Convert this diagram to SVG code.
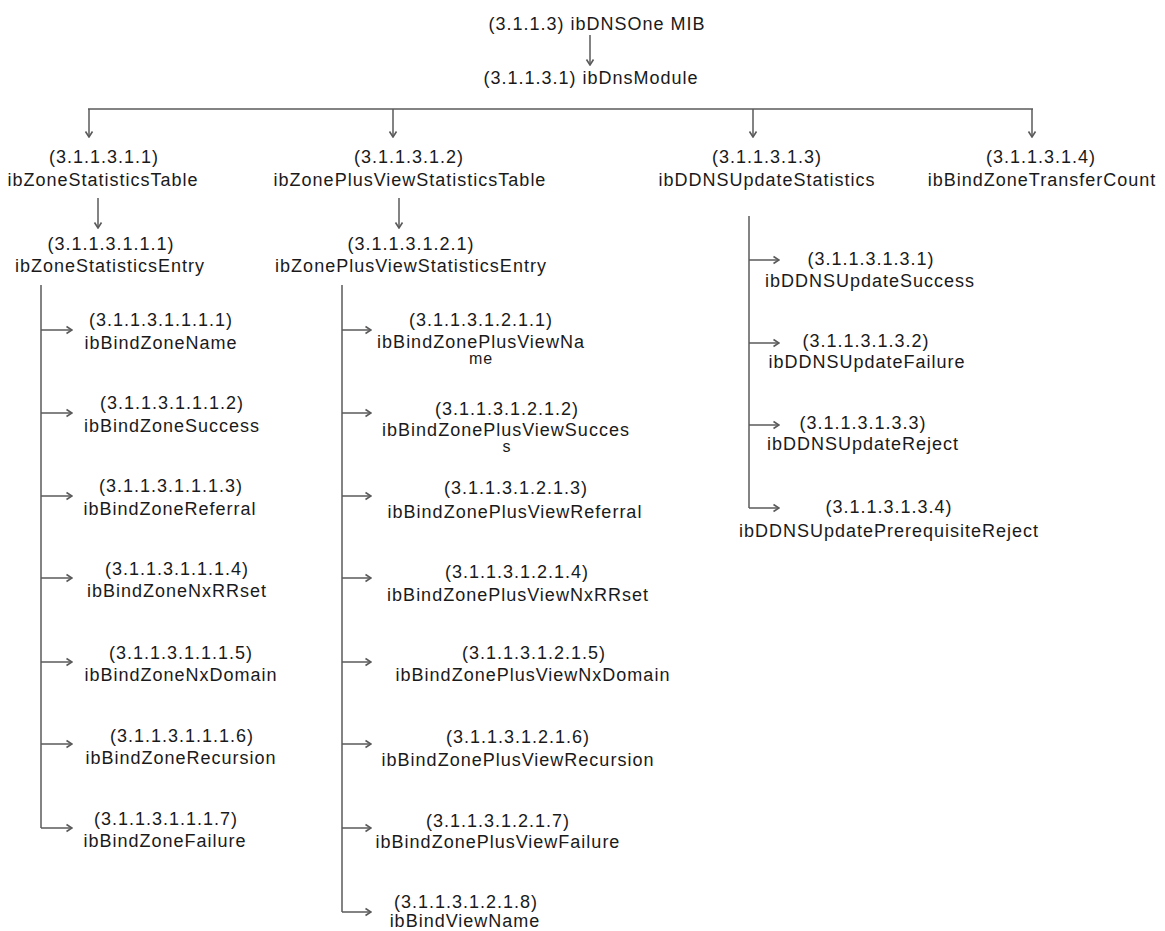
<svg xmlns="http://www.w3.org/2000/svg" width="1165" height="931" viewBox="0 0 1165 931">
  <defs>
    <marker id="arrow" markerUnits="userSpaceOnUse" markerWidth="10" markerHeight="10" viewBox="0 0 10 10" refX="9" refY="5" orient="auto">
      <path d="M3.5,1.5 L9,5 L3.5,8.5" fill="none" stroke="#5a5a5a" stroke-width="1.6" stroke-linejoin="miter"/>
    </marker>
    <style>
      text { font-family: "Liberation Sans", Arial, sans-serif; font-size: 18px; fill: #1a1a1a; letter-spacing: 1px; text-anchor: middle; }
      .wrap { font-size: 16px; }
      .line { fill: none; stroke: #5a5a5a; stroke-width: 1.5; }
      .arr { fill: none; stroke: #5a5a5a; stroke-width: 1.5; marker-end: url(#arrow); }
    </style>
  </defs>
  <rect width="1165" height="931" fill="#ffffff"/>

  <!-- connectors -->
  <g id="connectors">
    <line class="arr" x1="590" y1="35" x2="590" y2="65"/>
    <line class="line" x1="88" y1="109" x2="1033" y2="109"/>
    <line class="arr" x1="89" y1="109" x2="89" y2="137"/>
    <line class="arr" x1="393" y1="109" x2="393" y2="137"/>
    <line class="arr" x1="753" y1="109" x2="753" y2="137"/>
    <line class="arr" x1="1032" y1="109" x2="1032" y2="137"/>
    <line class="arr" x1="98" y1="198" x2="98" y2="228"/>
    <line class="arr" x1="399" y1="198" x2="399" y2="228"/>

    <!-- statistics entry branch -->
    <line class="line" x1="41" y1="285" x2="41" y2="828"/>
    <line class="arr" x1="41" y1="330" x2="72" y2="330"/>
    <line class="arr" x1="41" y1="413" x2="72" y2="413"/>
    <line class="arr" x1="41" y1="496" x2="72" y2="496"/>
    <line class="arr" x1="41" y1="578" x2="72" y2="578"/>
    <line class="arr" x1="41" y1="662" x2="72" y2="662"/>
    <line class="arr" x1="41" y1="744" x2="72" y2="744"/>
    <line class="arr" x1="41" y1="828" x2="72" y2="828"/>

    <!-- plus-view entry branch -->
    <line class="line" x1="342" y1="285" x2="342" y2="912"/>
    <line class="arr" x1="342" y1="330" x2="371" y2="330"/>
    <line class="arr" x1="342" y1="413" x2="371" y2="413"/>
    <line class="arr" x1="342" y1="496" x2="371" y2="496"/>
    <line class="arr" x1="342" y1="578" x2="371" y2="578"/>
    <line class="arr" x1="342" y1="662" x2="371" y2="662"/>
    <line class="arr" x1="342" y1="744" x2="371" y2="744"/>
    <line class="arr" x1="342" y1="828" x2="371" y2="828"/>
    <line class="arr" x1="342" y1="912" x2="371" y2="912"/>

    <!-- DDNS update branch -->
    <line class="line" x1="749" y1="216" x2="749" y2="508"/>
    <line class="arr" x1="749" y1="260" x2="779" y2="260"/>
    <line class="arr" x1="749" y1="343" x2="779" y2="343"/>
    <line class="arr" x1="749" y1="425" x2="779" y2="425"/>
    <line class="arr" x1="749" y1="508" x2="779" y2="508"/>
  </g>

  <!-- top level -->
  <g id="ibDNSOneMIB"><text x="597" y="30">(3.1.1.3) ibDNSOne MIB</text></g>
  <g id="ibDnsModule"><text x="591" y="84">(3.1.1.3.1) ibDnsModule</text></g>

  <g id="ibZoneStatisticsTable">
    <text x="104" y="163">(3.1.1.3.1.1)</text>
    <text x="103" y="186">ibZoneStatisticsTable</text>
  </g>
  <g id="ibZonePlusViewStatisticsTable">
    <text x="409" y="163">(3.1.1.3.1.2)</text>
    <text x="410" y="186">ibZonePlusViewStatisticsTable</text>
  </g>
  <g id="ibDDNSUpdateStatistics">
    <text x="767" y="163">(3.1.1.3.1.3)</text>
    <text x="767" y="186">ibDDNSUpdateStatistics</text>
  </g>
  <g id="ibBindZoneTransferCount">
    <text x="1041" y="163">(3.1.1.3.1.4)</text>
    <text x="1042" y="186">ibBindZoneTransferCount</text>
  </g>

  <g id="ibZoneStatisticsEntry">
    <text x="111" y="250">(3.1.1.3.1.1.1)</text>
    <text x="110" y="272">ibZoneStatisticsEntry</text>
  </g>
  <g id="ibZonePlusViewStatisticsEntry">
    <text x="411" y="250">(3.1.1.3.1.2.1)</text>
    <text x="411" y="272">ibZonePlusViewStatisticsEntry</text>
  </g>

  <!-- zone statistics columns -->
  <g id="ibBindZoneName">
    <text x="161" y="326">(3.1.1.3.1.1.1.1)</text>
    <text x="161" y="349">ibBindZoneName</text>
  </g>
  <g id="ibBindZoneSuccess">
    <text x="172" y="409">(3.1.1.3.1.1.1.2)</text>
    <text x="172" y="432">ibBindZoneSuccess</text>
  </g>
  <g id="ibBindZoneReferral">
    <text x="171" y="492">(3.1.1.3.1.1.1.3)</text>
    <text x="170" y="515">ibBindZoneReferral</text>
  </g>
  <g id="ibBindZoneNxRRset">
    <text x="177" y="575">(3.1.1.3.1.1.1.4)</text>
    <text x="177" y="597">ibBindZoneNxRRset</text>
  </g>
  <g id="ibBindZoneNxDomain">
    <text x="181" y="659">(3.1.1.3.1.1.1.5)</text>
    <text x="181" y="681">ibBindZoneNxDomain</text>
  </g>
  <g id="ibBindZoneRecursion">
    <text x="182" y="742">(3.1.1.3.1.1.1.6)</text>
    <text x="181" y="764">ibBindZoneRecursion</text>
  </g>
  <g id="ibBindZoneFailure">
    <text x="166" y="825">(3.1.1.3.1.1.1.7)</text>
    <text x="165" y="847">ibBindZoneFailure</text>
  </g>

  <!-- zone plus view statistics columns (long names wrap onto a short second line) -->
  <g id="ibBindZonePlusViewName">
    <text x="481" y="326">(3.1.1.3.1.2.1.1)</text>
    <text x="481" y="348">ibBindZonePlusViewNa</text>
    <text x="481" y="364" class="wrap">me</text>
  </g>
  <g id="ibBindZonePlusViewSuccess">
    <text x="507" y="415">(3.1.1.3.1.2.1.2)</text>
    <text x="506" y="436">ibBindZonePlusViewSucces</text>
    <text x="507" y="452" class="wrap">s</text>
  </g>
  <g id="ibBindZonePlusViewReferral">
    <text x="516" y="494">(3.1.1.3.1.2.1.3)</text>
    <text x="515" y="518">ibBindZonePlusViewReferral</text>
  </g>
  <g id="ibBindZonePlusViewNxRRset">
    <text x="517" y="578">(3.1.1.3.1.2.1.4)</text>
    <text x="518" y="601">ibBindZonePlusViewNxRRset</text>
  </g>
  <g id="ibBindZonePlusViewNxDomain">
    <text x="534" y="659">(3.1.1.3.1.2.1.5)</text>
    <text x="533" y="681">ibBindZonePlusViewNxDomain</text>
  </g>
  <g id="ibBindZonePlusViewRecursion">
    <text x="518" y="743">(3.1.1.3.1.2.1.6)</text>
    <text x="518" y="766">ibBindZonePlusViewRecursion</text>
  </g>
  <g id="ibBindZonePlusViewFailure">
    <text x="498" y="827">(3.1.1.3.1.2.1.7)</text>
    <text x="498" y="848">ibBindZonePlusViewFailure</text>
  </g>
  <g id="ibBindViewName">
    <text x="466" y="908">(3.1.1.3.1.2.1.8)</text>
    <text x="465" y="927">ibBindViewName</text>
  </g>

  <!-- DDNS update columns -->
  <g id="ibDDNSUpdateSuccess">
    <text x="871" y="265">(3.1.1.3.1.3.1)</text>
    <text x="870" y="287">ibDDNSUpdateSuccess</text>
  </g>
  <g id="ibDDNSUpdateFailure">
    <text x="866" y="347">(3.1.1.3.1.3.2)</text>
    <text x="867" y="368">ibDDNSUpdateFailure</text>
  </g>
  <g id="ibDDNSUpdateReject">
    <text x="863" y="429">(3.1.1.3.1.3.3)</text>
    <text x="863" y="450">ibDDNSUpdateReject</text>
  </g>
  <g id="ibDDNSUpdatePrerequisiteReject">
    <text x="889" y="513">(3.1.1.3.1.3.4)</text>
    <text x="889" y="537">ibDDNSUpdatePrerequisiteReject</text>
  </g>
</svg>
